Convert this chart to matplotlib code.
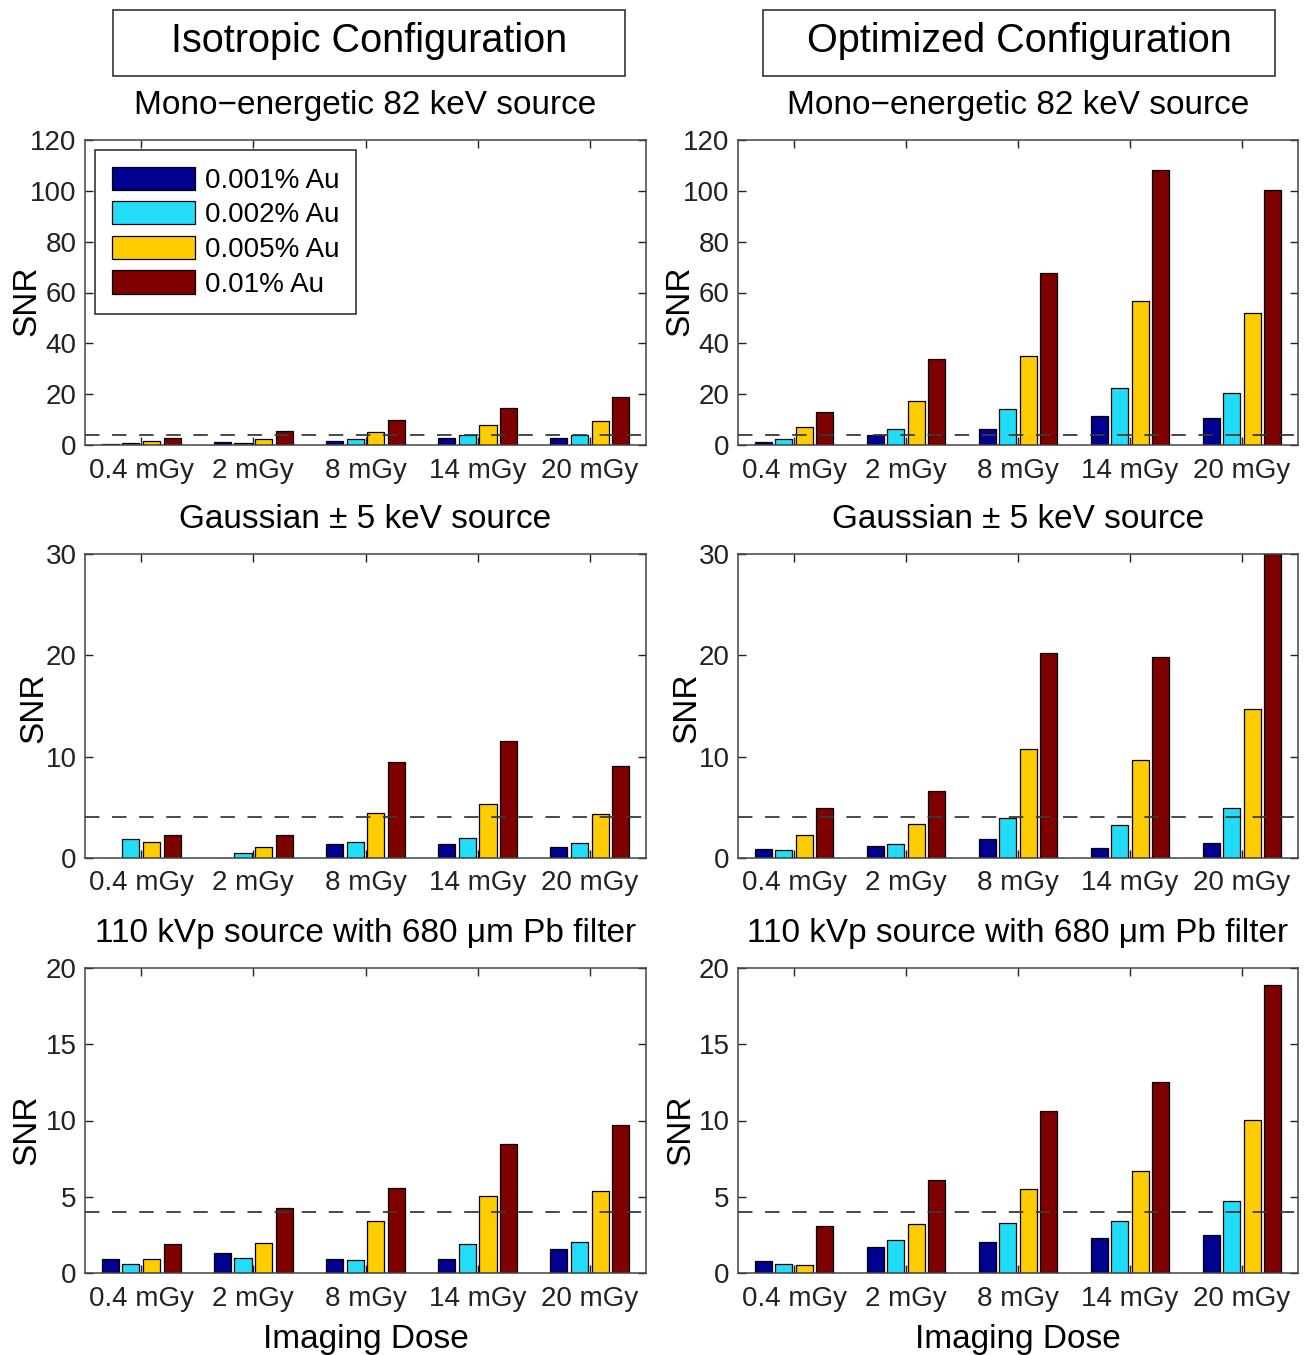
import numpy as np
import matplotlib
matplotlib.use("Agg")
import matplotlib.pyplot as plt
from matplotlib.patches import Rectangle

plt.rcParams["font.family"] = ["Liberation Sans", "DejaVu Sans"]

doses = ["0.4 mGy", "2 mGy", "8 mGy", "14 mGy", "20 mGy"]
series_names = ["0.001% Au", "0.002% Au", "0.005% Au", "0.01% Au"]
series_colors = ["#000090", "#22DDF8", "#FFCC00", "#800000"]

# SNR values, one list per Au concentration (rows = series, cols = dose)
iso_mono = [
    [0.2, 1.0, 1.7, 2.8, 2.8],
    [0.6, 0.6, 2.5, 3.9, 3.9],
    [1.5, 2.5, 5.1, 7.9, 9.3],
    [2.8, 5.6, 9.8, 14.7, 19.0],
]
opt_mono = [
    [1.2, 3.9, 6.3, 11.3, 10.5],
    [2.5, 6.4, 14.2, 22.6, 20.5],
    [7.0, 17.5, 35.2, 56.7, 52.1],
    [13.1, 33.7, 67.6, 108.1, 100.3],
]
iso_gauss = [
    [0.0, 0.0, 1.38, 1.38, 1.05],
    [1.87, 0.5, 1.6, 1.97, 1.5],
    [1.6, 1.05, 4.43, 5.28, 4.33],
    [2.3, 2.3, 9.5, 11.57, 9.1],
]
opt_gauss = [
    [0.89, 1.15, 1.87, 1.0, 1.5],
    [0.79, 1.34, 3.97, 3.28, 4.98],
    [2.3, 3.34, 10.8, 9.64, 14.66],
    [4.95, 6.6, 20.2, 19.8, 30.0],
]
iso_kvp = [
    [0.94, 1.31, 0.89, 0.89, 1.59],
    [0.59, 1.0, 0.83, 1.88, 2.05],
    [0.89, 1.98, 3.42, 5.02, 5.39],
    [1.88, 4.25, 5.58, 8.48, 9.68],
]
opt_kvp = [
    [0.76, 1.68, 2.03, 2.29, 2.49],
    [0.59, 2.18, 3.25, 3.42, 4.73],
    [0.52, 3.2, 5.54, 6.67, 10.05],
    [3.1, 6.08, 10.62, 12.5, 18.9],
]

threshold = 4
row_titles = [
    "Mono\u2212energetic 82 keV source",
    "Gaussian \u00b1 5 keV source",
    "110 kVp source with 680 \u03bcm Pb filter",
]
row_ylims = [(0, 120), (0, 30), (0, 20)]
row_yticks = [np.arange(0, 121, 20), np.arange(0, 31, 10), np.arange(0, 21, 5)]
panel_data = [[iso_mono, opt_mono], [iso_gauss, opt_gauss], [iso_kvp, opt_kvp]]

W, H = 1313, 1355
fig = plt.figure(figsize=(W / 100, H / 100), dpi=100)

col_x = [(85, 646), (738, 1298)]
row_y = [(140, 445), (554, 858), (968, 1273)]
ylabel_pos = [(-0.076, 0.472), (-0.064, 0.493), (-0.075, 0.469)]

x = np.arange(1, len(doses) + 1)
step = 0.184
width = 0.152
offsets = (np.arange(4) - 1.5) * step

for r in range(3):
    for c in range(2):
        x0, x1 = col_x[c]
        y0, y1 = row_y[r]
        ax = fig.add_axes([x0 / W, 1 - y1 / H, (x1 - x0) / W, (y1 - y0) / H])
        vals = panel_data[r][c]
        for k in range(4):
            ax.bar(x + offsets[k], vals[k], width=width, color=series_colors[k],
                   edgecolor="black", linewidth=0.9, label=series_names[k], zorder=2)
        ax.axhline(threshold, color="#3a3a3a", linestyle=(0, (8, 7)), linewidth=1.3, zorder=3)
        ax.set_xlim(0.5, 5.5)
        ax.set_ylim(*row_ylims[r])
        ax.set_yticks(row_yticks[r])
        ax.set_xticks(x)
        ax.set_xticklabels(doses)
        ax.tick_params(direction="in", top=True, right=True, length=6, width=1,
                       labelsize=20, colors="#222222", pad=6)
        ax.tick_params(axis="x", pad=9)
        for sp in ax.spines.values():
            sp.set_color("#444444")
            sp.set_linewidth(1.1)
        ax.set_ylabel("SNR", fontsize=24)
        ax.yaxis.set_label_coords(*ylabel_pos[r])
        ax.set_title(row_titles[r], fontsize=24, pad=19)
        if r == 2:
            ax.set_xlabel("Imaging Dose", fontsize=24, labelpad=9)
        if r == 0 and c == 0:
            leg = ax.legend(loc="upper left", fontsize=20, handlelength=3.0,
                            handleheight=0.9, handletextpad=0.36, labelspacing=0.27,
                            borderpad=0.6, borderaxespad=0.36, fancybox=False,
                            framealpha=1)
            leg.get_frame().set_edgecolor("#222222")
            leg.get_frame().set_linewidth(1.1)

# header boxes
for (bx0, bx1), label in zip([(113, 625), (763, 1275)],
                             ["Isotropic Configuration", "Optimized Configuration"]):
    fig.patches.append(Rectangle((bx0 / W, 1 - 76 / H), (bx1 - bx0) / W, 66 / H,
                                 transform=fig.transFigure, fill=False,
                                 edgecolor="#333333", linewidth=1.2))
    fig.text((bx0 + bx1) / 2 / W, 1 - 41 / H, label, fontsize=28.5,
             ha="center", va="center")

fig.savefig("out.png", dpi=100)
